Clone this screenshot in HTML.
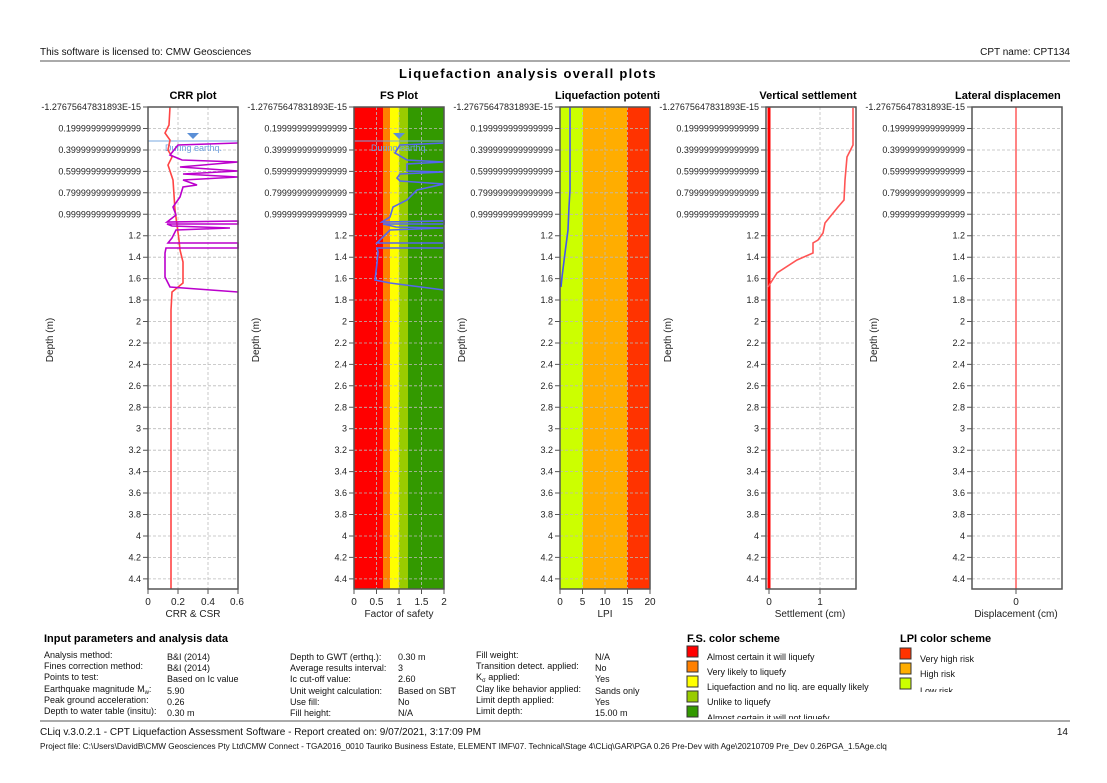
<!DOCTYPE html>
<html><head><meta charset="utf-8"><style>
body{margin:0;background:#fff;width:1107px;height:783px;overflow:hidden}
svg{display:block;font-family:"Liberation Sans","DejaVu Sans",sans-serif}
.t{font-size:9px;fill:#222;text-anchor:end}
.b{font-weight:bold;font-size:11px;fill:#000;text-anchor:middle}
.g{stroke:#bbb;stroke-width:0.8;stroke-dasharray:3,2;fill:none}
.s{font-size:9px;fill:#111}
.ax{font-size:10px;fill:#222;text-anchor:middle}
</style></head><body>
<svg width="1107" height="783" viewBox="0 0 1107 783">
<text x="40" y="55" style="font-size:10px" fill="#111">This software is licensed to: CMW Geosciences</text>
<text x="1070" y="55" style="font-size:10px;text-anchor:end" fill="#111">CPT name: CPT134</text>
<line x1="40" y1="61" x2="1070" y2="61" stroke="#555" stroke-width="1"/>
<text x="528" y="78" style="font-size:13px;font-weight:bold;letter-spacing:1.3px;text-anchor:middle">Liquefaction analysis overall plots</text>

<!-- plot titles -->
<text class="b" x="193" y="99">CRR plot</text>
<text class="b" x="399" y="99">FS Plot</text>
<text class="b" x="555" y="99" style="text-anchor:start">Liquefaction potenti</text>
<text class="b" x="808" y="99">Vertical settlement</text>
<text class="b" x="955" y="99" style="text-anchor:start">Lateral displacemen</text>

<!-- FS color bands -->
<rect x="354" y="107" width="29" height="482" fill="#ff0000"/>
<rect x="383" y="107" width="7" height="482" fill="#ff8000"/>
<rect x="390" y="107" width="9" height="482" fill="#ffff00"/>
<rect x="399" y="107" width="9" height="482" fill="#99cc00"/>
<rect x="408" y="107" width="36" height="482" fill="#339900"/>
<!-- LPI bands -->
<rect x="560" y="107" width="23" height="482" fill="#ccff00"/>
<rect x="583" y="107" width="44" height="482" fill="#ffad00"/>
<rect x="627" y="107" width="23" height="482" fill="#ff3300"/>

<!-- grids -->
<g class="g">
<path d="M148 128.5H238M148 150H238M148 171.4H238M148 192.8H238M148 214.3H238M148 235.7H238M148 257.2H238M148 278.6H238M148 300H238M148 321.5H238M148 343H238M148 364.4H238M148 385.8H238M148 407.3H238M148 428.7H238M148 450.2H238M148 471.6H238M148 493H238M148 514.5H238M148 536H238M148 557.4H238M148 578.9H238M178 107V589M208 107V589"/>
<path transform="translate(206,0)" d="M148 128.5H238M148 150H238M148 171.4H238M148 192.8H238M148 214.3H238M148 235.7H238M148 257.2H238M148 278.6H238M148 300H238M148 321.5H238M148 343H238M148 364.4H238M148 385.8H238M148 407.3H238M148 428.7H238M148 450.2H238M148 471.6H238M148 493H238M148 514.5H238M148 536H238M148 557.4H238M148 578.9H238M170.5 107V589M193 107V589M215.5 107V589"/>
<path transform="translate(412,0)" d="M148 128.5H238M148 150H238M148 171.4H238M148 192.8H238M148 214.3H238M148 235.7H238M148 257.2H238M148 278.6H238M148 300H238M148 321.5H238M148 343H238M148 364.4H238M148 385.8H238M148 407.3H238M148 428.7H238M148 450.2H238M148 471.6H238M148 493H238M148 514.5H238M148 536H238M148 557.4H238M148 578.9H238M170.5 107V589M193 107V589M215.5 107V589"/>
<path transform="translate(618,0)" d="M148 128.5H238M148 150H238M148 171.4H238M148 192.8H238M148 214.3H238M148 235.7H238M148 257.2H238M148 278.6H238M148 300H238M148 321.5H238M148 343H238M148 364.4H238M148 385.8H238M148 407.3H238M148 428.7H238M148 450.2H238M148 471.6H238M148 493H238M148 514.5H238M148 536H238M148 557.4H238M148 578.9H238M202 107V589"/>
<path transform="translate(824,0)" d="M148 128.5H238M148 150H238M148 171.4H238M148 192.8H238M148 214.3H238M148 235.7H238M148 257.2H238M148 278.6H238M148 300H238M148 321.5H238M148 343H238M148 364.4H238M148 385.8H238M148 407.3H238M148 428.7H238M148 450.2H238M148 471.6H238M148 493H238M148 514.5H238M148 536H238M148 557.4H238M148 578.9H238"/>
</g>

<!-- curves -->
<!-- water table -->
<line x1="148" y1="141" x2="238" y2="141" stroke="#7aa8e0" stroke-width="1"/>
<line x1="354" y1="141" x2="444" y2="141" stroke="#7aa8e0" stroke-width="1"/>
<polygon points="187,133 199,133 193,139" fill="#5b8fd6"/>
<polygon points="393,133 405,133 399,139" fill="#5b8fd6"/>
<text x="165" y="151" style="font-size:9px" fill="#6fa0de">During earthq.</text>
<text x="371" y="151" style="font-size:9px" fill="#6fa0de">During earthq.</text>
<!-- CSR red -->
<polyline fill="none" stroke="#ff4444" stroke-width="1.6" points="170,107 169,125 165,133 170,140 168,150 172,157 168,165 173,180 174,195 175,210 177,225 179,240 180,250 183,262 183,283 172,292 171,310 171,589"/>
<!-- CRR magenta -->
<polyline fill="none" stroke="#bb00cc" stroke-width="1.6" points="238,143 178,145 170,155 182,160 238,162 180,167 238,171 183,174 238,177 183,180 197,185 183,187 180,197 173,207 176,215 167,222 238,221 238,224 167,224 172,226 230,228 176,230 172,238 168,243 238,243 238,248 166,248 165,253 165,277 170,287 238,292"/>
<!-- FS blue -->
<polyline fill="none" stroke="#5566ee" stroke-width="1.6" points="444,143 400,145 395,153 407,160 444,162 407,164 407,171 444,172 400,174 397,178 400,181 444,184 417,190 407,200 393,207 390,217 382,222 444,221 444,224 383,224 396,227 444,228 390,230 383,237 377,243 444,243 444,248 377,248 378,252 377,263 375,280 390,283 444,290"/>
<!-- LPI blue -->
<polyline fill="none" stroke="#4455ee" stroke-width="1.6" points="570,107 570,190 569,207 568,230 565,253 562,277 561,287"/>
<!-- settlement -->
<line x1="769" y1="107" x2="769" y2="589" stroke="#ff0000" stroke-width="3"/>
<polyline fill="none" stroke="#ff5555" stroke-width="1.6" points="853,108 853,145 847,157 845,180 844,200 838,207 825,223 823,233 818,240 813,243 813,253 797,260 777,273 768,287"/>
<!-- lateral -->
<line x1="1016" y1="107" x2="1016" y2="589" stroke="#ff6666" stroke-width="1.6"/>

<!-- frames -->
<g fill="none" stroke="#555" stroke-width="1.5">
<rect x="148" y="107" width="90" height="482"/>
<rect x="354" y="107" width="90" height="482"/>
<rect x="560" y="107" width="90" height="482"/>
<rect x="766" y="107" width="90" height="482"/>
<rect x="972" y="107" width="90" height="482"/>
</g>
<!-- y tick marks -->
<g stroke="#555" stroke-width="1">
<path id="tk" d="M143 107H148M143 128.5H148M143 150H148M143 171.4H148M143 192.8H148M143 214.3H148M143 235.7H148M143 257.2H148M143 278.6H148M143 300H148M143 321.5H148M143 343H148M143 364.4H148M143 385.8H148M143 407.3H148M143 428.7H148M143 450.2H148M143 471.6H148M143 493H148M143 514.5H148M143 536H148M143 557.4H148M143 578.9H148M148 589V594M178 589V594M208 589V594M238 589V594"/>
<path transform="translate(206,0)" d="M143 107H148M143 128.5H148M143 150H148M143 171.4H148M143 192.8H148M143 214.3H148M143 235.7H148M143 257.2H148M143 278.6H148M143 300H148M143 321.5H148M143 343H148M143 364.4H148M143 385.8H148M143 407.3H148M143 428.7H148M143 450.2H148M143 471.6H148M143 493H148M143 514.5H148M143 536H148M143 557.4H148M143 578.9H148M148 589V594M170.5 589V594M193 589V594M215.5 589V594M238 589V594"/>
<path transform="translate(412,0)" d="M143 107H148M143 128.5H148M143 150H148M143 171.4H148M143 192.8H148M143 214.3H148M143 235.7H148M143 257.2H148M143 278.6H148M143 300H148M143 321.5H148M143 343H148M143 364.4H148M143 385.8H148M143 407.3H148M143 428.7H148M143 450.2H148M143 471.6H148M143 493H148M143 514.5H148M143 536H148M143 557.4H148M143 578.9H148M148 589V594M170.5 589V594M193 589V594M215.5 589V594M238 589V594"/>
<path transform="translate(618,0)" d="M143 107H148M143 128.5H148M143 150H148M143 171.4H148M143 192.8H148M143 214.3H148M143 235.7H148M143 257.2H148M143 278.6H148M143 300H148M143 321.5H148M143 343H148M143 364.4H148M143 385.8H148M143 407.3H148M143 428.7H148M143 450.2H148M143 471.6H148M143 493H148M143 514.5H148M143 536H148M143 557.4H148M143 578.9H148M151 589V594M202 589V594"/>
<path transform="translate(824,0)" d="M143 107H148M143 128.5H148M143 150H148M143 171.4H148M143 192.8H148M143 214.3H148M143 235.7H148M143 257.2H148M143 278.6H148M143 300H148M143 321.5H148M143 343H148M143 364.4H148M143 385.8H148M143 407.3H148M143 428.7H148M143 450.2H148M143 471.6H148M143 493H148M143 514.5H148M143 536H148M143 557.4H148M143 578.9H148M192 589V594"/>
</g>

<!-- y labels -->
<g class="t" transform="translate(141,0)">
<text y="110">-1.27675647831893E-15</text><text y="131.5">0.199999999999999</text><text y="153">0.399999999999999</text><text y="174.4">0.599999999999999</text><text y="195.8">0.799999999999999</text><text y="217.3">0.999999999999999</text><text y="238.7">1.2</text><text y="260.2">1.4</text><text y="281.6">1.6</text><text y="303">1.8</text><text y="324.5">2</text><text y="346">2.2</text><text y="367.4">2.4</text><text y="388.8">2.6</text><text y="410.3">2.8</text><text y="431.7">3</text><text y="453.2">3.2</text><text y="474.6">3.4</text><text y="496">3.6</text><text y="517.5">3.8</text><text y="539">4</text><text y="560.4">4.2</text><text y="581.9">4.4</text>
</g>
<g class="t" transform="translate(347,0)">
<text y="110">-1.27675647831893E-15</text><text y="131.5">0.199999999999999</text><text y="153">0.399999999999999</text><text y="174.4">0.599999999999999</text><text y="195.8">0.799999999999999</text><text y="217.3">0.999999999999999</text><text y="238.7">1.2</text><text y="260.2">1.4</text><text y="281.6">1.6</text><text y="303">1.8</text><text y="324.5">2</text><text y="346">2.2</text><text y="367.4">2.4</text><text y="388.8">2.6</text><text y="410.3">2.8</text><text y="431.7">3</text><text y="453.2">3.2</text><text y="474.6">3.4</text><text y="496">3.6</text><text y="517.5">3.8</text><text y="539">4</text><text y="560.4">4.2</text><text y="581.9">4.4</text>
</g>
<g class="t" transform="translate(553,0)">
<text y="110">-1.27675647831893E-15</text><text y="131.5">0.199999999999999</text><text y="153">0.399999999999999</text><text y="174.4">0.599999999999999</text><text y="195.8">0.799999999999999</text><text y="217.3">0.999999999999999</text><text y="238.7">1.2</text><text y="260.2">1.4</text><text y="281.6">1.6</text><text y="303">1.8</text><text y="324.5">2</text><text y="346">2.2</text><text y="367.4">2.4</text><text y="388.8">2.6</text><text y="410.3">2.8</text><text y="431.7">3</text><text y="453.2">3.2</text><text y="474.6">3.4</text><text y="496">3.6</text><text y="517.5">3.8</text><text y="539">4</text><text y="560.4">4.2</text><text y="581.9">4.4</text>
</g>
<g class="t" transform="translate(759,0)">
<text y="110">-1.27675647831893E-15</text><text y="131.5">0.199999999999999</text><text y="153">0.399999999999999</text><text y="174.4">0.599999999999999</text><text y="195.8">0.799999999999999</text><text y="217.3">0.999999999999999</text><text y="238.7">1.2</text><text y="260.2">1.4</text><text y="281.6">1.6</text><text y="303">1.8</text><text y="324.5">2</text><text y="346">2.2</text><text y="367.4">2.4</text><text y="388.8">2.6</text><text y="410.3">2.8</text><text y="431.7">3</text><text y="453.2">3.2</text><text y="474.6">3.4</text><text y="496">3.6</text><text y="517.5">3.8</text><text y="539">4</text><text y="560.4">4.2</text><text y="581.9">4.4</text>
</g>
<g class="t" transform="translate(965,0)">
<text y="110">-1.27675647831893E-15</text><text y="131.5">0.199999999999999</text><text y="153">0.399999999999999</text><text y="174.4">0.599999999999999</text><text y="195.8">0.799999999999999</text><text y="217.3">0.999999999999999</text><text y="238.7">1.2</text><text y="260.2">1.4</text><text y="281.6">1.6</text><text y="303">1.8</text><text y="324.5">2</text><text y="346">2.2</text><text y="367.4">2.4</text><text y="388.8">2.6</text><text y="410.3">2.8</text><text y="431.7">3</text><text y="453.2">3.2</text><text y="474.6">3.4</text><text y="496">3.6</text><text y="517.5">3.8</text><text y="539">4</text><text y="560.4">4.2</text><text y="581.9">4.4</text>
</g>

<!-- Depth labels -->
<g style="font-size:10px" fill="#222" text-anchor="middle">
<text transform="translate(53,340) rotate(-90)">Depth (m)</text>
<text transform="translate(259,340) rotate(-90)">Depth (m)</text>
<text transform="translate(465,340) rotate(-90)">Depth (m)</text>
<text transform="translate(671,340) rotate(-90)">Depth (m)</text>
<text transform="translate(877,340) rotate(-90)">Depth (m)</text>
</g>

<!-- x labels -->
<g class="ax">
<text x="148" y="605">0</text><text x="178" y="605">0.2</text><text x="208" y="605">0.4</text><text x="237" y="605">0.6</text>
<text x="193" y="617">CRR &amp; CSR</text>
<text x="354" y="605">0</text><text x="376.5" y="605">0.5</text><text x="399" y="605">1</text><text x="421.5" y="605">1.5</text><text x="444" y="605">2</text>
<text x="399" y="617">Factor of safety</text>
<text x="560" y="605">0</text><text x="582.5" y="605">5</text><text x="605" y="605">10</text><text x="627.5" y="605">15</text><text x="650" y="605">20</text>
<text x="605" y="617">LPI</text>
<text x="769" y="605">0</text><text x="820" y="605">1</text>
<text x="810" y="617">Settlement (cm)</text>
<text x="1016" y="605">0</text>
<text x="1016" y="617">Displacement (cm)</text>
</g>

<!-- Input parameters -->
<text x="44" y="642" style="font-size:11px;font-weight:bold">Input parameters and analysis data</text>
<g class="s">
<text x="44" y="658">Analysis method:</text><text x="44" y="669">Fines correction method:</text><text x="44" y="680">Points to test:</text><text x="44" y="692">Earthquake magnitude M<tspan font-size="6" dy="2">w</tspan><tspan dy="-2">:</tspan></text><text x="44" y="703">Peak ground acceleration:</text><text x="44" y="714">Depth to water table (insitu):</text>
<text x="167" y="660">B&amp;I (2014)</text><text x="167" y="671">B&amp;I (2014)</text><text x="167" y="682">Based on Ic value</text><text x="167" y="694">5.90</text><text x="167" y="705">0.26</text><text x="167" y="716">0.30 m</text>
<text x="290" y="660">Depth to GWT (erthq.):</text><text x="290" y="671">Average results interval:</text><text x="290" y="682">Ic cut-off value:</text><text x="290" y="694">Unit weight calculation:</text><text x="290" y="705">Use fill:</text><text x="290" y="716">Fill height:</text>
<text x="398" y="660">0.30 m</text><text x="398" y="671">3</text><text x="398" y="682">2.60</text><text x="398" y="694">Based on SBT</text><text x="398" y="705">No</text><text x="398" y="716">N/A</text>
<text x="476" y="658">Fill weight:</text><text x="476" y="669">Transition detect. applied:</text><text x="476" y="680">K<tspan font-size="6" dy="2">σ</tspan><tspan dy="-2"> applied:</tspan></text><text x="476" y="692">Clay like behavior applied:</text><text x="476" y="703">Limit depth applied:</text><text x="476" y="714">Limit depth:</text>
<text x="595" y="660">N/A</text><text x="595" y="671">No</text><text x="595" y="682">Yes</text><text x="595" y="694">Sands only</text><text x="595" y="705">Yes</text><text x="595" y="716">15.00 m</text>
</g>

<!-- FS legend -->
<text x="687" y="642" style="font-size:11px;font-weight:bold">F.S. color scheme</text>
<g stroke="#333" stroke-width="1">
<rect x="687" y="646" width="11" height="11" fill="#ff0000"/>
<rect x="687" y="661" width="11" height="11" fill="#ff8000"/>
<rect x="687" y="676" width="11" height="11" fill="#ffff00"/>
<rect x="687" y="691" width="11" height="11" fill="#99cc00"/>
<rect x="687" y="706" width="11" height="11" fill="#339900"/>
<rect x="900" y="648" width="11" height="11" fill="#ff3300"/>
<rect x="900" y="663" width="11" height="11" fill="#ffad00"/>
<rect x="900" y="678" width="11" height="11" fill="#ccff00"/>
</g>
<g class="s">
<text x="707" y="660">Almost certain it will liquefy</text>
<text x="707" y="675">Very likely to liquefy</text>
<text x="707" y="690">Liquefaction and no liq. are equally likely</text>
<text x="707" y="705">Unlike to liquefy</text>
</g>
<svg x="700" y="710" width="200" height="9"><text x="7" y="11" class="s">Almost certain it will not liquefy</text></svg>
<text x="900" y="642" style="font-size:11px;font-weight:bold">LPI color scheme</text>
<g class="s">
<text x="920" y="662">Very high risk</text>
<text x="920" y="677">High risk</text>
</g>
<svg x="910" y="683" width="100" height="9"><text x="10" y="11" class="s">Low risk</text></svg>

<line x1="40" y1="721" x2="1070" y2="721" stroke="#555" stroke-width="1"/>
<text x="40" y="735" style="font-size:10px" fill="#111">CLiq v.3.0.2.1 - CPT Liquefaction Assessment Software - Report created on: 9/07/2021, 3:17:09 PM</text>
<text x="1068" y="735" style="font-size:10px;text-anchor:end" fill="#111">14</text>
<text x="40" y="749" style="font-size:8.2px" fill="#111">Project file: C:\Users\DavidB\CMW Geosciences Pty Ltd\CMW Connect - TGA2016_0010 Tauriko Business Estate, ELEMENT IMF\07. Technical\Stage 4\CLiq\GAR\PGA 0.26 Pre-Dev with Age\20210709 Pre_Dev 0.26PGA_1.5Age.clq</text>
</svg>
</body></html>
